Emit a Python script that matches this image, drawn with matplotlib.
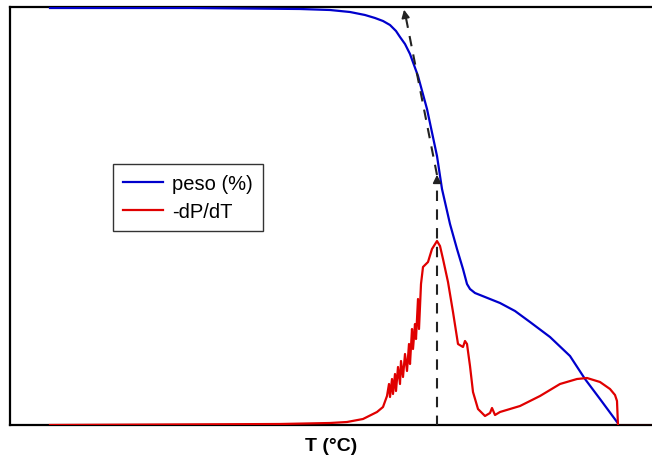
import matplotlib
matplotlib.use("Agg")
import matplotlib.pyplot as plt

# Temperature axis (arbitrary units, no tick labels in the original)
T_peso = [50, 190, 300, 330, 350, 365, 375, 383, 390, 396, 400, 405, 410, 418, 427, 437,
          442, 450, 457, 463, 467, 470, 475, 490, 500, 515, 530, 550, 570, 585, 600, 617]
peso = [417, 417, 416, 415, 413, 410, 407, 404, 400, 394, 388, 381, 371, 349, 316, 269,
        236, 201, 176, 156, 141, 136, 132, 126, 122, 114, 103, 88, 69, 46, 26, 3]

T_dpdt = [50, 280, 330, 347, 363, 377, 383, 387, 389, 390, 392, 393, 395, 396, 398,
          400, 401, 403, 405, 407, 409, 410, 412, 413, 415, 416, 418, 419, 421, 423,
          428, 432, 437, 440, 443, 448, 453, 458, 463, 465, 467, 470, 473, 478, 485,
          490, 492, 495, 500, 520, 540, 560, 577, 587, 600, 610, 615, 617, 618, 660]
dpdt = [0, 1, 2, 3, 6, 13, 18, 29, 41, 28, 46, 31, 51, 34, 58,
        41, 64, 48, 71, 54, 81, 61, 96, 76, 101, 86, 126, 96, 141, 158,
        163, 176, 184, 179, 166, 143, 113, 81, 78, 84, 81, 59, 33, 16, 9,
        12, 17, 10, 13, 19, 29, 41, 46, 47, 43, 36, 30, 24, -1, -1]

legend_labels = ["peso (%)", "-dP/dT"]

fig = plt.figure(figsize=(6.52, 4.60), dpi=100)
ax = fig.add_axes([10 / 652, (460 - 426) / 460, 1 - 10 / 652, 418 / 460])

ax.plot(T_peso, peso, color="#0000cc", lw=1.6, label=legend_labels[0], zorder=3)
ax.plot(T_dpdt, dpdt, color="#e00000", lw=1.6, label=legend_labels[1], zorder=3)

# dashed lines with arrow heads: vertical from DTG peak and tangent to TG curve
dash = (0, (5, 4))
ax.plot([437, 437], [-1, 248], color="#222222", lw=1.5, linestyle=dash, zorder=4)
ax.annotate("", xy=(437, 253), xytext=(437, 240),
            arrowprops=dict(arrowstyle="-|>", color="#222222", lw=1.2,
                            mutation_scale=12), zorder=4)
ax.plot([437, 405], [250, 412], color="#222222", lw=1.5, linestyle=dash, zorder=4)
ax.annotate("", xy=(403.5, 418), xytext=(406, 405),
            arrowprops=dict(arrowstyle="-|>", color="#222222", lw=1.2,
                            mutation_scale=12), zorder=4)

ax.set_xlim(10, 652)
ax.set_ylim(0, 418)
ax.set_xticks([])
ax.set_yticks([])
for s in ["left", "top", "bottom"]:
    ax.spines[s].set_linewidth(1.6)
    ax.spines[s].set_color("black")
ax.spines["right"].set_visible(False)

ax.set_xlabel("T (°C)", fontsize=14, fontweight="bold", family="Liberation Sans",
              labelpad=9)

leg = ax.legend(loc="upper left", bbox_to_anchor=((113 - 10) / 642, (426 - 165) / 418),
                frameon=True, fancybox=False, edgecolor="black",
                prop={"family": "Liberation Sans", "size": 14.5},
                handlelength=2.0, handletextpad=0.45, borderpad=0.5, labelspacing=0.45,
                borderaxespad=0)
leg.get_frame().set_linewidth(1.0)

fig.savefig("out.png", dpi=100)
